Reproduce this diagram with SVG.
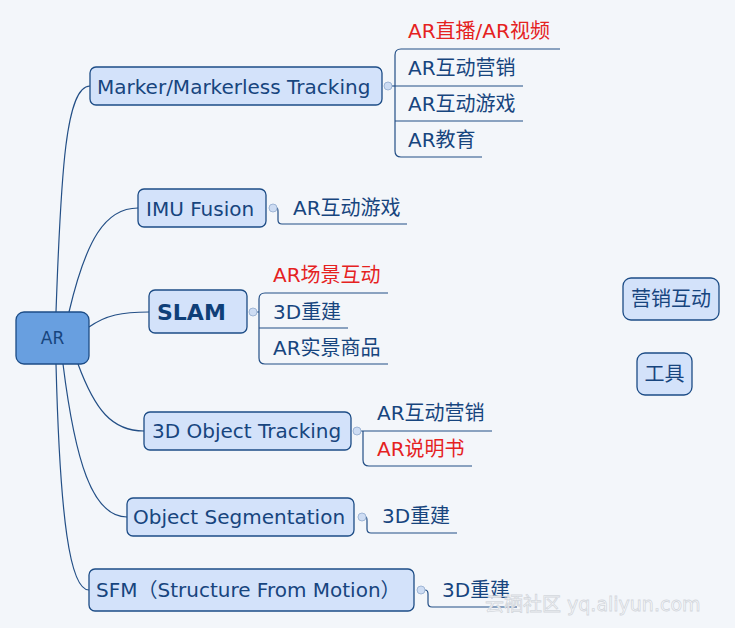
<svg xmlns="http://www.w3.org/2000/svg" width="735" height="628" viewBox="0 0 735 628">
<style>
  .bg { fill: #f3f6fa; }
  .node { fill: #d3e2fa; stroke: #1c4c86; stroke-width: 1.3; }
  .root { fill: #689fe0; stroke: #1c4c86; stroke-width: 1.3; }
  .t { font-family: 'DejaVu Sans', 'Noto Sans CJK SC', sans-serif; font-size: 20px; fill: #17457e; }
  .red { fill: #e5221f; }
  .bold { font-weight: bold; font-size: 22px; fill: #0f3f78; }
  .conn { fill: none; stroke: #234f86; stroke-width: 1.2; }
  .dot { fill: #cddcf3; stroke: #9fb6d6; stroke-width: 1; }
  .wm { font-family: 'DejaVu Sans', 'Noto Sans CJK SC', sans-serif; font-size: 19px; fill: #fbfcfd; stroke: #d3d7dd; stroke-width: 0.8; }
</style>
<rect class="bg" x="0" y="0" width="735" height="628"/>

<g id="connectors">
  <path class="conn" d="M56,312 C61,170 66,86 90,86"/>
  <path class="conn" d="M69,312 C86,240 105,208 138,208"/>
  <path class="conn" d="M89,327 C106,315 122,312 149,312"/>
  <path class="conn" d="M78,364 C95,410 112,431 144,431"/>
  <path class="conn" d="M63,364 C75,460 92,517 127,517"/>
  <path class="conn" d="M56,364 C60,520 70,590 89,590"/>
  <!-- Marker children -->
  <path class="conn" d="M392,86 H395"/>
  <path class="conn" d="M560,49 H401 Q395,49 395,55 V151 Q395,157 401,157 H482"/>
  <path class="conn" d="M395,86 H523"/>
  <path class="conn" d="M395,121 H523"/>
  <!-- IMU child -->
  <path class="conn" d="M277,208 Q278,208 278,212 V220 Q278,224 282,224 H407"/>
  <!-- SLAM children -->
  <path class="conn" d="M257,312 H259"/>
  <path class="conn" d="M388,293 H265 Q259,293 259,299 V358 Q259,364 265,364 H388"/>
  <path class="conn" d="M259,328 H348"/>
  <!-- 3D Object Tracking children -->
  <path class="conn" d="M361,431 H492"/>
  <path class="conn" d="M363,431 V460 Q363,466 369,466 H472"/>
  <!-- Object Segmentation child -->
  <path class="conn" d="M366,517 Q367,517 367,521 V529 Q367,533 371,533 H457"/>
  <!-- SFM child -->
  <path class="conn" d="M425,590 Q428,590 428,594 V603 Q428,607 432,607 H517"/>
</g>

<g id="node-ar">
  <rect class="root" x="16" y="312" width="73" height="52" rx="8"/>
  <text class="t" x="52.5" y="344" text-anchor="middle" style="font-size:17px">AR</text>
</g>

<g id="node-marker">
  <rect class="node" x="90" y="67" width="292" height="38" rx="6"/>
  <text class="t" x="97" y="93.5">Marker/Markerless Tracking</text>
  <circle class="dot" cx="388" cy="86" r="4"/>
</g>
<g id="node-marker-c1"><text class="t red" x="408" y="38">AR直播/AR视频</text></g>
<g id="node-marker-c2"><text class="t" x="408" y="75">AR互动营销</text></g>
<g id="node-marker-c3"><text class="t" x="408" y="111">AR互动游戏</text></g>
<g id="node-marker-c4"><text class="t" x="408" y="147">AR教育</text></g>

<g id="node-imu">
  <rect class="node" x="138" y="189" width="128" height="38" rx="6"/>
  <text class="t" x="146" y="215.5">IMU Fusion</text>
  <circle class="dot" cx="273" cy="208" r="4"/>
</g>
<g id="node-imu-c1"><text class="t" x="293" y="215">AR互动游戏</text></g>

<g id="node-slam">
  <rect class="node" x="149" y="290" width="98" height="43" rx="6"/>
  <text class="t bold" x="157" y="319.5">SLAM</text>
  <circle class="dot" cx="253" cy="312" r="4"/>
</g>
<g id="node-slam-c1"><text class="t red" x="273" y="282">AR场景互动</text></g>
<g id="node-slam-c2"><text class="t" x="273" y="319">3D重建</text></g>
<g id="node-slam-c3"><text class="t" x="273" y="355">AR实景商品</text></g>

<g id="node-3dot">
  <rect class="node" x="144" y="412" width="207" height="38" rx="6"/>
  <text class="t" x="152" y="438">3D Object Tracking</text>
  <circle class="dot" cx="357" cy="431" r="4"/>
</g>
<g id="node-3dot-c1"><text class="t" x="377" y="420">AR互动营销</text></g>
<g id="node-3dot-c2"><text class="t red" x="377" y="456">AR说明书</text></g>

<g id="node-objseg">
  <rect class="node" x="127" y="498" width="227" height="38" rx="6"/>
  <text class="t" x="133" y="524">Object Segmentation</text>
  <circle class="dot" cx="362" cy="517" r="4"/>
</g>
<g id="node-objseg-c1"><text class="t" x="382" y="523">3D重建</text></g>

<g id="node-sfm">
  <rect class="node" x="89" y="569" width="325" height="42" rx="6"/>
  <text class="t" x="96" y="597">SFM（Structure From Motion）</text>
  <circle class="dot" cx="421" cy="590" r="4"/>
</g>
<g id="node-sfm-c1"><text class="t" x="442" y="597">3D重建</text></g>

<g id="node-marketing">
  <rect class="node" x="623" y="278" width="96" height="42" rx="8"/>
  <text class="t" x="671" y="306" text-anchor="middle">营销互动</text>
</g>
<g id="node-tools">
  <rect class="node" x="637" y="353" width="55" height="42" rx="8"/>
  <text class="t" x="664.5" y="381" text-anchor="middle">工具</text>
</g>

<text class="wm" x="485" y="611">云栖社区 yq.aliyun.com</text>
</svg>
